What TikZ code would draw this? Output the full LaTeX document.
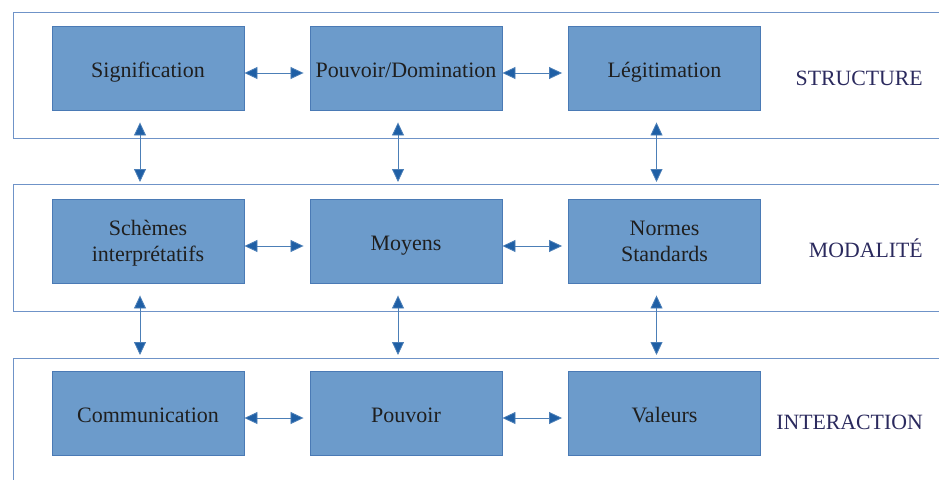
\documentclass[tikz,border=0pt]{standalone}
\usepackage{fontspec}
\setmainfont{Liberation Serif}
\usetikzlibrary{arrows.meta}
\definecolor{boxfill}{HTML}{6C9BCB}
\definecolor{boxline}{HTML}{4A7AB5}
\definecolor{bandline}{HTML}{6F93C8}
\definecolor{arrowblue}{HTML}{1F5FA5}
\definecolor{labelink}{HTML}{2B2A5E}
\begin{document}
\begin{tikzpicture}[x=1pt,y=-1pt,
  concept/.style={draw=boxline, line width=0.9pt, fill=boxfill,
    minimum width=192pt, minimum height=84pt, inner sep=0pt,
    text height=23pt, text depth=5pt,
    align=center, font=\fontsize{22}{26.5}\selectfont, text=black!88},
  twoline/.style={text height=46pt, text depth=5pt},
  layerlabel/.style={anchor=base east, inner sep=0pt,
    font=\fontsize{21.8}{26}\selectfont, text=labelink},
  band/.style={draw=bandline, line width=0.9pt},
  biarrow/.style={draw=arrowblue!80, line width=0.8pt,
    {Triangle[length=13pt,width=12pt,fill=arrowblue]}-{Triangle[length=13pt,width=12pt,fill=arrowblue]}}]
\useasboundingbox (0,0) rectangle (939,479);
\fill[white] (0,0) rectangle (939,479);

% the three layers
\draw[band] (939,12) -- (13,12) -- (13,138) -- (939,138);
\draw[band] (939,184) -- (13,184) -- (13,311) -- (939,311);
\draw[band] (939,358) -- (13,358) -- (13,480);
\coordinate (b2top) at (0,182);
\coordinate (b3top) at (0,355);

% structure
\node[concept] (sig) at (148,68) {Signification};
\node[concept] (dom) at (406,68) {Pouvoir/Domination};
\node[concept] (leg) at (664.5,68) {Légitimation};
\node[layerlabel] (lstruct) at (923,85) {STRUCTURE};

% modality
\node[concept,twoline] (sch) at (148,241) {Schèmes\\interprétatifs};
\node[concept] (moy) at (406,241) {Moyens};
\node[concept,twoline] (nor) at (664.5,241) {Normes\\Standards};
\node[layerlabel] (lmod) at (923,257.5) {MODALITÉ};

% interaction
\node[concept] (com) at (148,413) {Communication};
\node[concept] (pou) at (406,413) {Pouvoir};
\node[concept] (val) at (664.5,413) {Valeurs};
\node[layerlabel] (linter) at (923,429) {INTERACTION};

% horizontal links
\foreach \a/\b in {sig/dom,dom/leg,sch/moy,moy/nor,com/pou,pou/val}
  \draw[biarrow] ([yshift=-5pt]\a.east) -- ([xshift=-6pt,yshift=-5pt]\b.west);

% vertical links between layers
\foreach \a in {sig,dom,leg}
  \draw[biarrow] ([xshift=-8pt,yshift=-12pt]\a.south) -- ([xshift=-8pt]\a.south |- b2top);
\foreach \a in {sch,moy,nor}
  \draw[biarrow] ([xshift=-8pt,yshift=-12pt]\a.south) -- ([xshift=-8pt]\a.south |- b3top);
\end{tikzpicture}
\end{document}
